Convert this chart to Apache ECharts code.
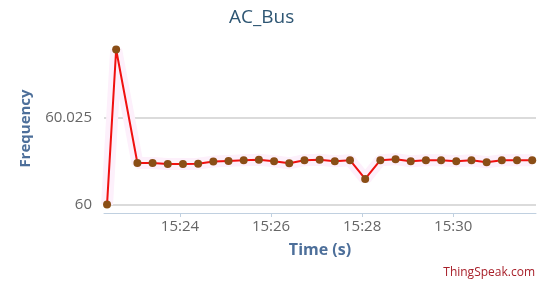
<!DOCTYPE html>
<html>
<head>
<meta charset="utf-8">
<script src="https://cdn.jsdelivr.net/npm/echarts@6/dist/echarts.min.js"></script>
<style>
  html, body { margin: 0; padding: 0; background: #fff; }
  #chart { width: 550px; height: 287px; }
</style>
</head>
<body>
<div id="chart"></div>
<script>
// timestamps of the samples
var times = [
  '15:22:24', '15:22:36', '15:23:04', '15:23:24',
  '15:23:44', '15:24:04', '15:24:24', '15:24:44',
  '15:25:04', '15:25:24', '15:25:44', '15:26:04',
  '15:26:24', '15:26:44', '15:27:04', '15:27:24',
  '15:27:44', '15:28:04', '15:28:24', '15:28:44',
  '15:29:04', '15:29:24', '15:29:44', '15:30:04',
  '15:30:24', '15:30:44', '15:31:04', '15:31:24',
  '15:31:44'
];
// frequency values
var freq = [
  60.0000, 60.0447, 60.0120, 60.0120,
  60.0117, 60.0117, 60.0118, 60.0124,
  60.0126, 60.0128, 60.0129, 60.0125,
  60.0119, 60.0128, 60.0129, 60.0125,
  60.0128, 60.0074, 60.0128, 60.0131,
  60.0125, 60.0128, 60.0128, 60.0125,
  60.0128, 60.0122, 60.0128, 60.0128,
  60.0128
];
var yTicks = [60, 60.025];
var xTicks = ['15:24:00', '15:26:00', '15:28:00', '15:30:00'];

// clock time -> seconds since midnight
function secs(t) {
  var p = t.split(':');
  return (+p[0]) * 3600 + (+p[1]) * 60 + (+p[2]);
}

var points = times.map(function (t, i) { return [secs(t), freq[i]]; });
var xTickVals = xTicks.map(secs);

var chart = echarts.init(document.getElementById('chart'));

var option = {
  animation: false,
  backgroundColor: '#fff',
  title: {
    text: 'AC_Bus',
    left: 224,
    top: 3,
    textStyle: { fontFamily: 'Open Sans', fontSize: 19, fontWeight: 'normal', color: '#2e5673' }
  },
  grid: { left: 104, right: 14, top: 44, bottom: 74 },
  xAxis: {
    type: 'value',
    min: secs('15:22:20'),
    max: secs('15:31:49'),
    name: 'Time (s)',
    nameLocation: 'middle',
    nameGap: 29,
    nameTextStyle: { fontFamily: 'Open Sans', fontSize: 16, fontWeight: 'bold', color: '#4d6f9a' },
    axisLine: { lineStyle: { color: '#c0d0e0', width: 1 } },
    axisTick: { show: true, length: 4, customValues: xTickVals, lineStyle: { color: '#c0d0e0' } },
    splitLine: { show: false },
    axisLabel: {
      customValues: xTickVals,
      formatter: function (v) {
        var h = Math.floor(v / 3600), m = Math.floor((v % 3600) / 60);
        return h + ':' + ('0' + m).slice(-2);
      },
      margin: 6,
      fontFamily: 'Open Sans', fontSize: 15, color: '#666'
    }
  },
  yAxis: {
    type: 'value',
    min: 59.99758,
    max: 60.04628,
    name: 'Frequency',
    nameLocation: 'middle',
    nameGap: 71,
    nameRotate: 90,
    nameTextStyle: { fontFamily: 'Open Sans', fontSize: 15, fontWeight: 'bold', color: '#4d6f9a' },
    axisLine: { show: false },
    axisTick: { show: false, customValues: yTicks },
    axisLabel: {
      customValues: yTicks,
      formatter: function (v) { return String(+v.toFixed(3)); },
      margin: 12,
      fontFamily: 'Open Sans', fontSize: 15, color: '#666'
    },
    splitLine: { show: true, lineStyle: { color: '#cfcfcf', width: 1.5 } }
  },
  series: [
    {
      // faint pink halo under the line
      type: 'line',
      data: points,
      silent: true,
      showSymbol: false,
      lineStyle: { color: '#fdf0fb', width: 12 },
      z: 1
    },
    {
      type: 'line',
      data: points,
      symbol: 'circle',
      symbolSize: 8,
      showAllSymbol: true,
      lineStyle: { color: '#f01010', width: 2 },
      itemStyle: { color: '#8a4e16' },
      z: 3
    }
  ],
  graphic: [
    {
      type: 'text',
      right: 15,
      top: 267,
      style: { text: 'ThingSpeak.com', font: '12px "Open Sans"', fill: '#a8202a' }
    }
  ]
};

chart.setOption(option);
</script>
</body>
</html>
